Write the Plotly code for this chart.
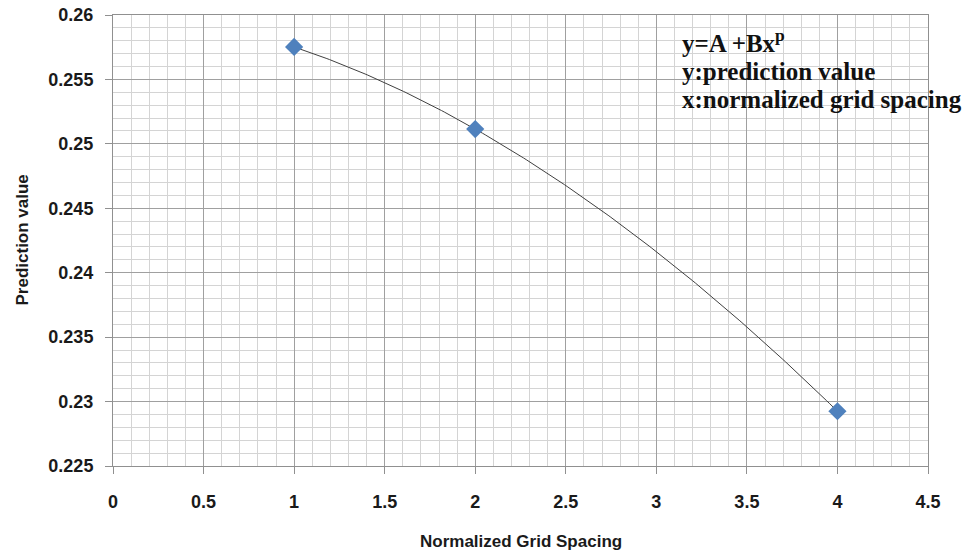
import numpy as np
import plotly.graph_objects as go

grid_spacing = [1, 2, 4]
prediction = [0.25752, 0.25115, 0.22925]

x_ticks = [0, 0.5, 1, 1.5, 2, 2.5, 3, 3.5, 4, 4.5]
x_tick_labels = ["0", "0.5", "1", "1.5", "2", "2.5", "3", "3.5", "4", "4.5"]
y_ticks = [0.225, 0.23, 0.235, 0.24, 0.245, 0.25, 0.255, 0.26]
y_tick_labels = ["0.225", "0.23", "0.235", "0.24", "0.245", "0.25", "0.255", "0.26"]

# Fitted model y = A + B x^p through the three data points (as stated on the chart)
y1, y2, y4 = prediction
p = np.log2((y4 - y2) / (y2 - y1))
B = (y2 - y1) / (2 ** p - 1)
A = y1 - B
fit_x = np.linspace(min(grid_spacing), max(grid_spacing), 200)
fit_y = A + B * fit_x ** p

fig = go.Figure()
fig.add_trace(go.Scatter(
    x=fit_x, y=fit_y, mode="lines",
    line=dict(color="#404040", width=1),
    showlegend=False, hoverinfo="skip",
))
fig.add_trace(go.Scatter(
    x=grid_spacing, y=prediction, mode="markers",
    marker=dict(symbol="diamond", size=14, color="#4F81BD", line=dict(width=0)),
    showlegend=False,
))

tickfont = dict(family="Liberation Sans", size=18, color="#1a1a1a", weight="bold")
titlefont = dict(family="Liberation Sans", size=17, color="#1a1a1a", weight="bold")
notefont = dict(family="Liberation Serif", size=25, color="#111111", weight="bold")

fig.update_layout(
    width=969, height=555,
    margin=dict(l=113, r=41, t=15, b=89),
    paper_bgcolor="white", plot_bgcolor="white",
    xaxis=dict(
        range=[0, 4.5], tickmode="array", tickvals=x_ticks, ticktext=x_tick_labels,
        showgrid=True, gridcolor="#a0a0a0", gridwidth=1,
        minor=dict(dtick=0.1, showgrid=True, gridcolor="#d4d4d4", gridwidth=1),
        showline=True, linecolor="#909090", mirror=True, linewidth=1,
        ticks="outside", ticklen=7, tickcolor="#909090",
        tickfont=tickfont, zeroline=False, automargin=False,
        ticklabelstandoff=12, ticklabeloverflow="allow",
    ),
    yaxis=dict(
        range=[0.225, 0.26], tickmode="array", tickvals=y_ticks, ticktext=y_tick_labels,
        showgrid=True, gridcolor="#a0a0a0", gridwidth=1,
        minor=dict(dtick=0.001, showgrid=True, gridcolor="#d4d4d4", gridwidth=1),
        showline=True, linecolor="#909090", mirror=True, linewidth=1,
        ticks="outside", ticklen=7, tickcolor="#909090",
        tickfont=tickfont, zeroline=False, automargin=False,
        ticklabelstandoff=8, ticklabeloverflow="allow",
    ),
    annotations=[
        dict(xref="paper", yref="paper", x=0.5, y=0, yshift=-75, xanchor="center", yanchor="middle",
             showarrow=False, text="Normalized Grid Spacing", font=titlefont),
        dict(xref="paper", yref="paper", x=0, xshift=-91, y=0.5, xanchor="center", yanchor="middle",
             showarrow=False, text="Prediction value", textangle=-90, font=titlefont),
        dict(xref="paper", yref="paper", x=0, xshift=567, y=1, yshift=-26, xanchor="left", yanchor="middle",
             showarrow=False, text="y=A +Bx<sup>p</sup>", font=notefont),
        dict(xref="paper", yref="paper", x=0, xshift=567, y=1, yshift=-56, xanchor="left", yanchor="middle",
             showarrow=False, text="y:prediction value", font=notefont),
        dict(xref="paper", yref="paper", x=0, xshift=567, y=1, yshift=-84, xanchor="left", yanchor="middle",
             showarrow=False, text="x:normalized grid spacing", font=notefont),
    ],
)

fig.write_html("out.html", config={"displayModeBar": False},
               post_script="document.body.style.margin='0';")
